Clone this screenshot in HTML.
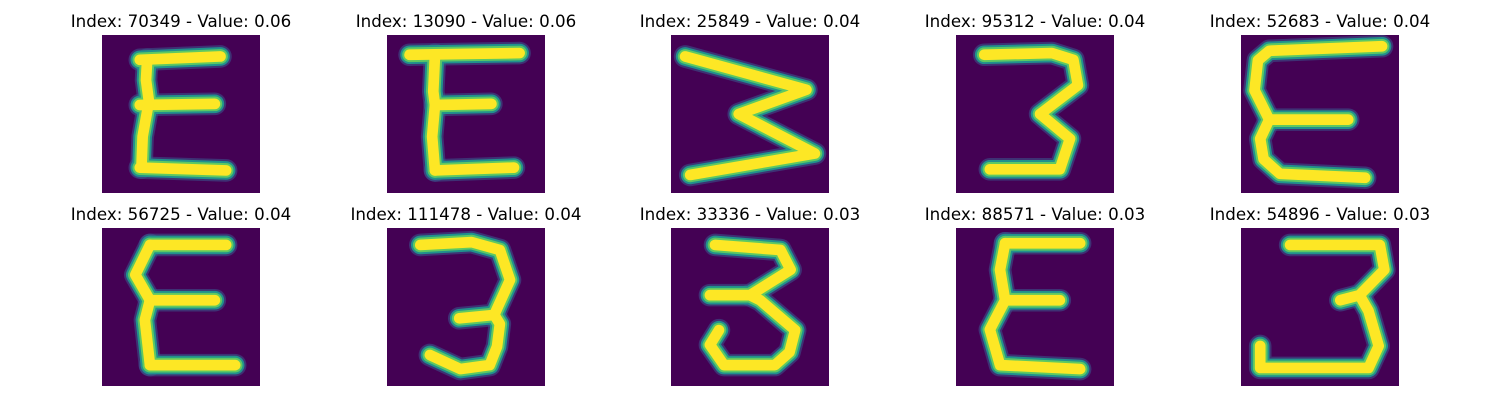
<!DOCTYPE html>
<html><head><meta charset="utf-8"><style>
html,body{margin:0;padding:0;background:#fff;width:1500px;height:400px;overflow:hidden}
svg{display:block}
</style></head><body>
<svg id="fig" width="1500" height="400" xmlns="http://www.w3.org/2000/svg"><defs id="defs"></defs></svg>
<script>
const indices = [70349, 13090, 25849, 95312, 52683, 56725, 111478, 33336, 88571, 54896];
const values = [0.06, 0.06, 0.04, 0.04, 0.04, 0.04, 0.04, 0.03, 0.03, 0.03];
const strokes = [
  [[[6.7,4.4],[21,3.8]],[[8,4.4],[7.8,8],[8.4,12.4]],[[6.7,12.4],[20,12.2]],[[8.2,12.4],[7.2,18],[7,23.5]],[[6.7,23.5],[22,24]]],
  [[[4,3.5],[23.5,3.2]],[[8.5,3.5],[8.2,10],[8.5,12.4]],[[8.5,12.4],[18.5,12.2]],[[8.5,12.4],[8,18],[8.5,24]],[[8.5,24],[22.5,23.5]]],
  [[[2.5,3.8],[24,9.7],[12,14],[25.5,21],[3.4,24.8]]],
  [[[5,3.5],[17,3.2],[20.8,4.4],[21.6,8.9],[14.9,14],[20.2,18.4],[18.4,23.8],[6,23.8]]],
  [[[25,2],[5,2.8],[3,4.5],[2.4,9.8],[5,15]],[[5,15],[19,15]],[[5,15],[3.4,18.4],[4,22],[6.9,24.6],[22,25.3]]],
  [[[8.5,3],[22,3]],[[8.5,3],[5.9,8.3],[8.5,12.8]],[[8.5,12.8],[20,12.8]],[[8.5,12.8],[7.6,16.3],[8.5,24.3]],[[8.5,24.3],[23.6,24.3]]],
  [[[5.9,3],[15,2.5],[20,3.9],[21.8,9.2],[19,15.4],[12.8,16]],[[19,15.4],[20,17],[19.5,21],[18.2,24.3],[13,25],[7.6,22.5]]],
  [[[7.8,3],[19.4,3.9],[21.2,7.4],[14,11.9],[6.9,11.9]],[[14,11.9],[15.8,12.8],[22,18.1],[21,22],[18.4,24.3],[9.4,24.3],[6.9,20.7],[8.5,18.1]]],
  [[[8.7,2.7],[22,2.7]],[[8.7,2.7],[7.8,7.4],[8.7,12.8]],[[8.7,12.8],[18.4,12.8]],[[8.7,12.8],[6,18],[7.8,24.3],[22,25]]],
  [[[8.7,3],[24.6,3],[25.4,7.4],[21,11.9],[17.6,12.8]],[[21,11.9],[22.6,14.7],[24.4,20.9],[22.6,24.8],[3.4,24.8],[3.4,20.9]]]
];
const NS = "http://www.w3.org/2000/svg";
const svg = document.getElementById('fig');
const defs = document.getElementById('defs');
const colX = [102, 387, 671, 956, 1241];
const rowY = [35, 228];
const size = 158, sc = size / 28;
for (let i = 0; i < indices.length; i++) {
  const x0 = colX[i % 5], y0 = rowY[Math.floor(i / 5)];
  const cp = document.createElementNS(NS, 'clipPath');
  cp.setAttribute('id', 'clip' + i);
  const cr = document.createElementNS(NS, 'rect');
  cr.setAttribute('x', x0); cr.setAttribute('y', y0);
  cr.setAttribute('width', size); cr.setAttribute('height', size);
  cp.appendChild(cr);
  defs.appendChild(cp);
  const g = document.createElementNS(NS, 'g');
  
  
  const t = document.createElementNS(NS, 'text');
  
  
  t.setAttribute('x', x0 + size / 2);
  t.setAttribute('y', y0 - 8);
  t.setAttribute('text-anchor', 'middle');
  t.setAttribute('font-family', 'DejaVu Sans, Liberation Sans, sans-serif');
  t.setAttribute('font-size', '16.7');
  t.textContent = 'Index: ' + indices[i] + ' - Value: ' + values[i].toFixed(2);
  g.appendChild(t);
  const r = document.createElementNS(NS, 'rect');
  
  
  r.setAttribute('x', x0); r.setAttribute('y', y0);
  r.setAttribute('width', size); r.setAttribute('height', size);
  r.setAttribute('fill', '#440154');
  g.appendChild(r);
  const sg = document.createElementNS(NS, 'g');
  sg.setAttribute('clip-path', 'url(#clip' + i + ')');
  const layers = [['#3b528b', 4.0], ['#21918c', 3.3], ['#5ec962', 2.6], ['#fde725', 1.9]];
  for (const [col, w] of layers) {
    for (const s of strokes[i]) {
      const p = document.createElementNS(NS, 'polyline');
      
      
      p.setAttribute('points', s.map(q => (x0 + q[0] * sc) + ',' + (y0 + q[1] * sc)).join(' '));
      p.setAttribute('fill', 'none');
      p.setAttribute('stroke', col);
      p.setAttribute('stroke-width', w * sc);
      p.setAttribute('stroke-linejoin', 'round');
      p.setAttribute('stroke-linecap', 'round');
      p.setAttribute('opacity', col === '#3b528b' ? 0.6 : 1);
      sg.appendChild(p);
    }
  }
  g.appendChild(sg);
  svg.appendChild(g);
}
</script>
</body></html>
